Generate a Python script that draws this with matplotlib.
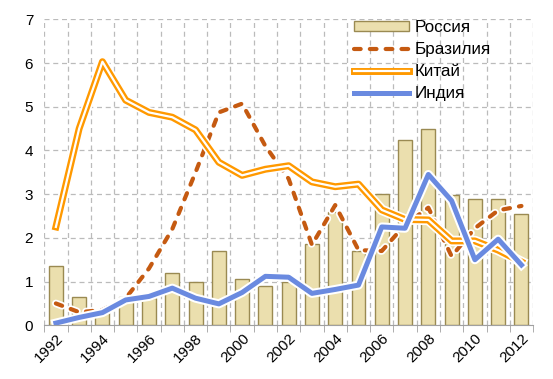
import matplotlib
matplotlib.use("Agg")
import matplotlib.pyplot as plt
import matplotlib.patheffects as pe
from matplotlib.lines import Line2D
from matplotlib.patches import Rectangle
import numpy as np

plt.rcParams['font.family'] = ['Liberation Sans', 'DejaVu Sans']

years = list(range(1992, 2013))
russia = [1.35, 0.65, 0.33, 0.65, 0.62, 1.19, 1.0, 1.69, 1.05, 0.89, 1.0,
          1.86, 2.6, 1.70, 3.0, 4.23, 4.5, 2.98, 2.9, 2.9, 2.54]
brazil = [0.5, 0.3, 0.35, 0.62, 1.3, 2.2, 3.5, 4.87, 5.07, 4.1, 3.35,
          1.84, 2.75, 1.72, 1.7, 2.3, 2.69, 1.58, 2.22, 2.63, 2.73]
china = [2.25, 4.5, 6.03, 5.15, 4.87, 4.76, 4.47, 3.73, 3.43, 3.57, 3.65,
         3.28, 3.17, 3.23, 2.64, 2.42, 2.41, 1.93, 1.93, 1.72, 1.45]
india = [0.05, 0.18, 0.29, 0.58, 0.66, 0.85, 0.62, 0.49, 0.75, 1.12, 1.1,
         0.73, 0.82, 0.92, 2.25, 2.22, 3.45, 2.85, 1.5, 1.97, 1.38]
labels = ['Россия', 'Бразилия', 'Китай', 'Индия']

c_bar = '#EBDFAE'
c_bar_edge = '#9A8A52'
c_brazil = '#C55A11'
c_china = '#FF9900'
c_india = '#6A8AE0'

fig = plt.figure(figsize=(5.53, 3.79), dpi=100)
ax = fig.add_axes([0.080, 0.1417, 0.884, 0.8074])

x = np.arange(len(years))
ax.bar(x, russia, width=0.6, color=c_bar, edgecolor=c_bar_edge, linewidth=1.0, zorder=2)

br_dash = (1.6, 2.2)
ax.plot(x, brazil, color=c_brazil, lw=3, dashes=br_dash, solid_capstyle='round',
        dash_capstyle='round', zorder=3,
        path_effects=[pe.Stroke(linewidth=5.5, foreground='white'), pe.Normal()])
china_pe = [pe.Stroke(linewidth=7.5, foreground='white'),
            pe.Stroke(linewidth=5, foreground=c_china), pe.Normal()]
ax.plot(x, china, color='white', lw=1.6, zorder=4, path_effects=china_pe)
ax.plot(x, india, color=c_india, lw=3.6, zorder=5,
        path_effects=[pe.Stroke(linewidth=6.5, foreground='white'), pe.Normal()])

ax.set_xlim(-0.5, len(years) - 0.5)
ax.set_ylim(0, 7)
ax.set_yticks(range(0, 8))
ax.tick_params(axis='y', length=0, labelsize=11, pad=8)

ax.set_xticks(np.arange(-0.5, len(years)), minor=True)
ax.set_xticks(x[::2])
ax.set_xticklabels([str(y) for y in years[::2]], rotation=45, ha='right',
                   rotation_mode='anchor', fontsize=11)
ax.tick_params(axis='x', which='major', length=0, pad=4)
ax.tick_params(axis='x', which='minor', length=5, color='#A0A0A0')

ax.grid(True, which='minor', axis='x', color='#BBBBBB', linestyle=(0, (4, 3)), lw=0.9, zorder=0)
ax.grid(True, which='major', axis='y', color='#BBBBBB', linestyle=(0, (4, 3)), lw=0.9, zorder=0)
ax.set_axisbelow(True)

for s in ['top', 'right', 'left']:
    ax.spines[s].set_visible(False)
ax.spines['bottom'].set_color('#A0A0A0')
ax.spines['bottom'].set_zorder(6)

handles = [
    Rectangle((0, 0), 1, 1, facecolor=c_bar, edgecolor=c_bar_edge, linewidth=1.0),
    Line2D([], [], color=c_brazil, lw=3, dashes=br_dash, dash_capstyle='round'),
    Line2D([], [], color='white', lw=1.6,
           path_effects=[pe.Stroke(linewidth=5, foreground=c_china), pe.Normal()]),
    Line2D([], [], color=c_india, lw=3.6),
]
leg = fig.legend(handles, labels, loc='upper left', bbox_to_anchor=(0.613, 0.988),
                 frameon=False, fontsize=12.3, handlelength=3.2, handleheight=0.55,
                 labelspacing=0.42, handletextpad=0.3, borderpad=0.4)

fig.savefig('out.png', dpi=100)
